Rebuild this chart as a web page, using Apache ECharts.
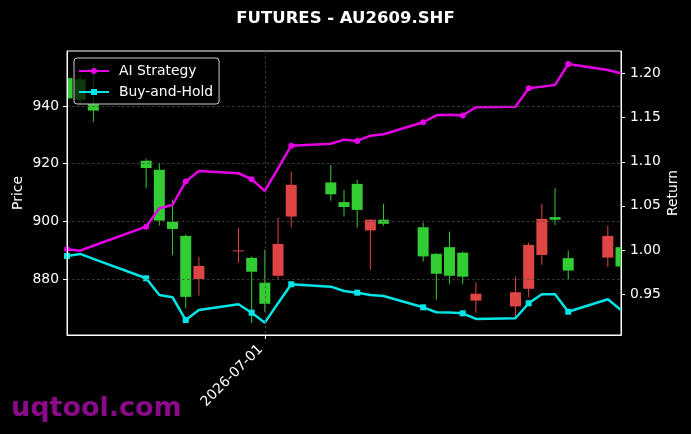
<!DOCTYPE html>
<html><head><meta charset="utf-8">
<script src="https://cdn.jsdelivr.net/npm/echarts@6/dist/echarts.min.js"></script>
<style>html,body{margin:0;padding:0;background:#000;}#c{width:691px;height:434px;}</style>
</head><body><div id="c"></div>
<script>
const dates = ['2026-06-16','2026-06-17','2026-06-18','2026-06-22','2026-06-23','2026-06-24','2026-06-25','2026-06-26','2026-06-29','2026-06-30',
  '2026-07-01','2026-07-02','2026-07-03','2026-07-06','2026-07-07','2026-07-08','2026-07-09','2026-07-10','2026-07-13','2026-07-14',
  '2026-07-15','2026-07-16','2026-07-17','2026-07-20','2026-07-21','2026-07-22','2026-07-23','2026-07-24','2026-07-27','2026-07-28'];
const opens  = [942.6,942.1,938.4,918.5,900.3,897.4,873.9,884.6,890.0,882.6,871.5,892.2,912.7,909.4,905.0,904.0,900.6,899.2,887.9,881.9,881.2,880.9,875.0,875.5,891.9,900.9,900.6,883.0,895.0,884.4];
const closes = [949.6,949.2,940.6,921.0,917.9,899.9,895.0,880.1,889.7,887.4,878.8,881.2,901.7,913.5,906.7,913.0,896.9,900.6,898.0,888.8,891.1,889.2,872.6,870.6,876.7,888.4,901.5,887.3,887.5,891.1];
const lows   = [941.5,940.5,934.5,911.6,898.6,888.4,870.1,874.3,885.7,864.9,868.7,880.1,897.9,907.2,901.7,897.9,883.3,898.5,886.1,872.9,878.4,878.4,868.4,867.1,873.8,885.0,898.8,880.0,884.2,883.0];
const highs  = [951.0,950.5,954.9,921.7,920.2,907.5,895.5,887.8,897.8,887.9,890.2,901.2,917.3,919.6,910.9,914.4,900.8,906.1,899.6,889.0,896.5,889.6,878.9,880.9,892.7,906.1,911.5,889.9,898.5,892.0];
const aiStrategy = [1.0008,0.9992,1.0048,1.0264,1.0473,1.0510,1.0777,1.0896,1.0870,1.0802,1.0669,1.0926,1.1183,1.1205,1.1251,1.1236,1.1296,1.1312,1.1448,1.1527,1.1534,1.1525,1.1618,1.1625,1.1833,1.1852,1.1871,1.2109,1.2041,1.2003];
const buyHold    = [0.9932,0.9955,0.9899,0.9679,0.9490,0.9464,0.9206,0.9320,0.9384,0.9289,0.9176,0.9397,0.9611,0.9584,0.9535,0.9516,0.9490,0.9478,0.9350,0.9294,0.9291,0.9282,0.9218,0.9226,0.9396,0.9498,0.9498,0.9300,0.9441,0.9320];
const priceTicks = [880, 900, 920, 940];
const returnTicks = [0.95, 1.00, 1.05, 1.10, 1.15, 1.20];
const dateTicks = ['2026-07-01'];

const FONT = 'DejaVu Sans';
const UP = '#32cd32', DOWN = '#e04545';
function ts(s){ const p = s.split('-').map(Number); return Date.UTC(p[0], p[1]-1, p[2]); }
function fmt(v){ const d = new Date(v); const m = String(d.getUTCMonth()+1).padStart(2,'0'); const dd = String(d.getUTCDate()).padStart(2,'0'); return d.getUTCFullYear()+'-'+m+'-'+dd; }

const candleData = dates.map((d,i)=>[ts(d), opens[i], closes[i], lows[i], highs[i]]);
const aiData = dates.map((d,i)=>[ts(d), aiStrategy[i]]);
const bhData = dates.map((d,i)=>[ts(d), buyHold[i]]);
const markSize = (v, p) => (p.dataIndex % 3 === 0 ? 6 : 0);
const BODY_W = 11;

function renderCandle(params, api){
  const x = api.value(0), o = api.value(1), c = api.value(2), lo = api.value(3), hi = api.value(4);
  const pO = api.coord([x, o]), pC = api.coord([x, c]), pL = api.coord([x, lo]), pH = api.coord([x, hi]);
  const col = c >= o ? UP : DOWN;
  const top = Math.min(pO[1], pC[1]);
  const h = Math.max(Math.abs(pO[1] - pC[1]), 1);
  return {
    type: 'group',
    children: [
      {type:'line', shape:{x1:pH[0], y1:pH[1], x2:pL[0], y2:pL[1]}, style:{stroke:col, lineWidth:1}},
      {type:'rect', shape:{x:pO[0]-BODY_W/2, y:top, width:BODY_W, height:h}, style:{fill:col}}
    ]
  };
}

const chart = echarts.init(document.getElementById('c'), null, {renderer:'canvas'});
chart.setOption({
  backgroundColor: '#000',
  animation: false,
  textStyle: {fontFamily: FONT},
  title: {
    text: 'FUTURES - AU2609.SHF', left: 'center', top: 5,
    textStyle: {color:'#fff', fontSize: 16.5, fontWeight:'bold', fontFamily: FONT}
  },
  grid: {left: 67, right: 70, top: 51, bottom: 99, show: true, borderColor:'#fff', borderWidth: 1, backgroundColor:'#000', containLabel:false, outerBoundsMode:'none'},
  legend: {
    left: 74, top: 58, orient:'vertical', z: 50,
    padding: [5, 6, 4, 4], itemGap: 5, itemWidth: 30, itemHeight: 7.5,
    backgroundColor: 'transparent', borderColor: '#cccccc', borderWidth: 1, borderRadius: 3,
    textStyle: {color:'#fff', fontSize: 13.9, fontFamily: FONT, lineHeight: 16, padding:[0,0,0,5]},
    data: ['AI Strategy','Buy-and-Hold']
  },
  xAxis: {
    type: 'value', min: ts(dates[0]), max: ts(dates[dates.length-1]), z: 10,
    axisLine: {show:true, lineStyle:{color:'#fff', width:1}},
    axisTick: {show:true, length:4, lineStyle:{color:'#fff'}, customValues: dateTicks.map(ts)},
    axisLabel: {show:true, rotate:45, margin:8, padding:[0,6,0,0], color:'#fff', fontSize:13.9, fontFamily: FONT, customValues: dateTicks.map(ts), formatter: v => fmt(v)},
    splitLine: {show:true, lineStyle:{color:'#4a4a4a', width:0.8, type:[2.5,2.5]}}
  },
  yAxis: [{
    type:'value', position:'left', min: 860.7, max: 959.0, z: 10,
    name: 'Price', nameLocation:'middle', nameGap: 42, nameMoveOverlap: false,
    nameTextStyle:{color:'#fff', fontSize:13.9, fontFamily: FONT},
    axisLine: {show:true, lineStyle:{color:'#fff', width:1}},
    axisTick: {show:true, length:4, lineStyle:{color:'#fff'}, customValues: priceTicks},
    axisLabel: {color:'#fff', fontSize:13.9, margin:8, fontFamily: FONT, customValues: priceTicks, formatter: v => String(Math.round(v))},
    splitLine: {show:true, lineStyle:{color:'#4a4a4a', width:0.8, type:[2.5,2.5]}}
  },{
    type:'value', position:'right', min: 0.9036, max: 1.2256, z: 10,
    name: 'Return', nameLocation:'middle', nameGap: 45, nameMoveOverlap: false,
    nameTextStyle:{color:'#fff', fontSize:13.9, fontFamily: FONT},
    axisLine: {show:true, lineStyle:{color:'#fff', width:1}},
    axisTick: {show:true, length:4, lineStyle:{color:'#fff'}, customValues: returnTicks},
    axisLabel: {color:'#fff', fontSize:13.9, margin:9, fontFamily: FONT, customValues: returnTicks, formatter: v => v.toFixed(2)},
    splitLine: {show:false}
  }],
  graphic: [{
    type:'rect', left: 74, top: 58, z: 45,
    shape: {width: 144, height: 46, r: 3},
    style: {fill:'rgba(0,0,0,0.72)'}
  },{
    type:'text', left: 11, top: 395,
    style: {text:'uqtool.com', fill:'#8a0a8a', font:'bold 27px "DejaVu Sans"'}
  }],
  series: [{
    type:'custom', name:'Price', xAxisIndex:0, yAxisIndex:0, clip: true,
    renderItem: renderCandle, encode: {x: 0, y: [1,2,3,4]},
    data: candleData, z: 2
  },{
    type:'line', name:'AI Strategy', yAxisIndex:1, data: aiData,
    lineStyle:{color:'#e600e6', width:2.5}, itemStyle:{color:'#e600e6'},
    symbol:'circle', symbolSize: markSize, showSymbol:true, z: 3
  },{
    type:'line', name:'Buy-and-Hold', yAxisIndex:1, data: bhData,
    lineStyle:{color:'#00e6e6', width:2.5}, itemStyle:{color:'#00e6e6'},
    symbol:'rect', symbolSize: markSize, showSymbol:true, z: 3
  }]
});
</script>
</body></html>
